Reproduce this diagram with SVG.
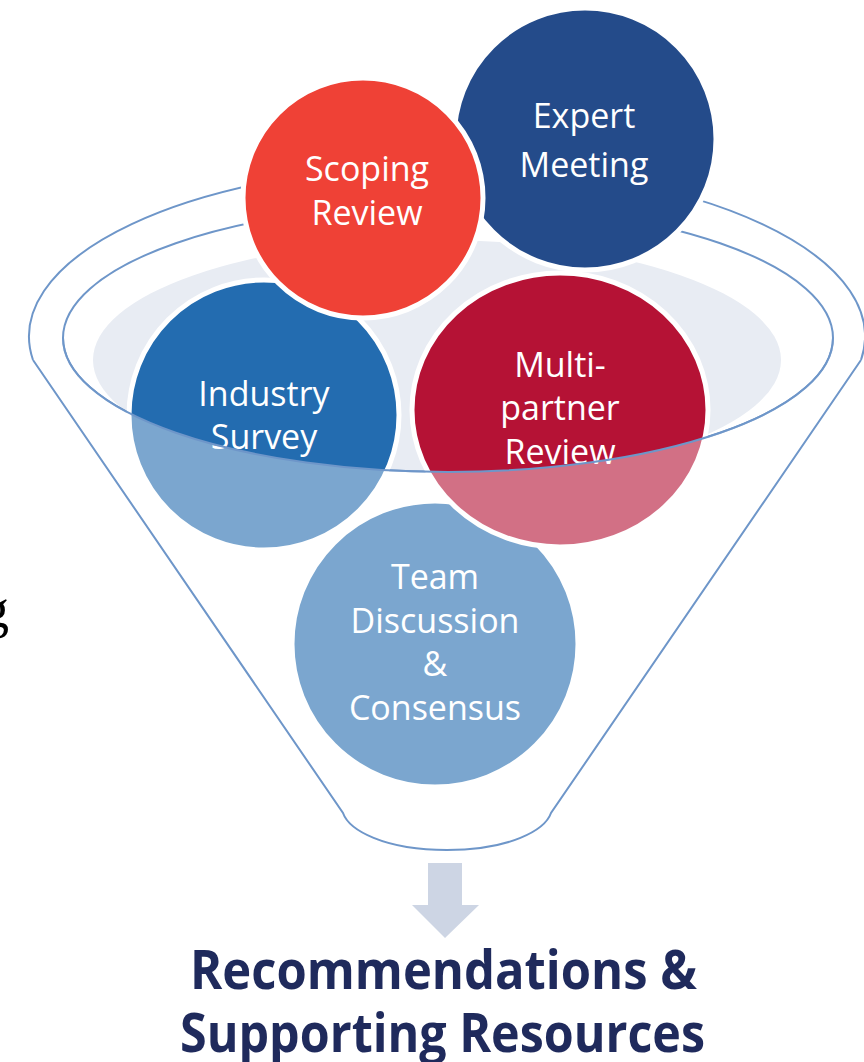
<svg xmlns="http://www.w3.org/2000/svg" width="864" height="1062" viewBox="0 0 864 1062">
<style>
.rim{fill:none;stroke:#6E96C9;stroke-width:2}
.node{stroke:#FFFFFF;stroke-width:5}
.lbl{font-family:"Open Sans","Noto Sans",sans-serif;font-size:34px;fill:#FFFFFF;text-anchor:middle}
.out{font-family:"Open Sans","Noto Sans",sans-serif;font-size:54px;font-weight:bold;fill:#1F2A5C;text-anchor:middle}
</style>
<defs>
<clipPath id="innerClip"><ellipse cx="448" cy="338" rx="385" ry="134"/></clipPath>
</defs>
<rect x="0" y="0" width="864" height="1062" fill="#FFFFFF"/>
<text x="9" y="627" font-family="Liberation Serif, serif" font-size="54" fill="#000000" text-anchor="end">g</text>
<g id="funnel-back">
<ellipse cx="437" cy="360" rx="344" ry="120" fill="#E8ECF3" clip-path="url(#innerClip)"/>
<path class="rim" d="M 33,360 A 418,171 0 1 1 861,360"/>
<ellipse class="rim" cx="448" cy="338" rx="385" ry="134"/>
</g>
<g id="team-discussion">
<circle class="node" cx="435" cy="644" r="143" fill="#236CB0"/>
<text class="lbl" x="435" y="589">Team</text>
<text class="lbl" x="435" y="633">Discussion</text>
<text class="lbl" x="435" y="676">&amp;</text>
<text class="lbl" x="435" y="720">Consensus</text>
</g>
<g id="multi-partner-review">
<ellipse class="node" cx="560" cy="410" rx="148" ry="137" fill="#B51235"/>
<text class="lbl" x="560" y="377">Multi-</text>
<text class="lbl" x="560" y="420">partner</text>
<text class="lbl" x="560" y="464">Review</text>
</g>
<g id="industry-survey">
<circle class="node" cx="264" cy="415" r="135" fill="#236CB0"/>
<text class="lbl" x="264" y="406">Industry</text>
<text class="lbl" x="264" y="449">Survey</text>
</g>
<g id="expert-meeting">
<circle class="node" cx="585" cy="139" r="131" fill="#244B8A"/>
<text class="lbl" x="584" y="128">Expert</text>
<text class="lbl" x="584" y="177">Meeting</text>
</g>
<g id="scoping-review">
<circle class="node" cx="363" cy="198" r="120" fill="#EF4136"/>
<text class="lbl" x="367" y="181">Scoping</text>
<text class="lbl" x="367" y="225">Review</text>
</g>
<g id="funnel-front">
<path d="M 63,338 A 385,134 0 0 0 833,338 L 861,360 L 551,813 C 545,830 510,850 447,850 C 384,850 349,830 343,813 L 33,360 Z" fill="#FFFFFF" fill-opacity="0.4"/>
<path class="rim" d="M 63,338 A 385,134 0 0 0 833,338"/>
<path class="rim" d="M 33,360 L 343,813 C 349,830 384,850 447,850 C 510,850 545,830 551,813 L 861,360"/>
</g>
<g id="connectors">
<path d="M 428,863 L 462,863 L 462,905 L 479,905 L 445,938 L 412,905 L 428,905 Z" fill="#CDD5E4"/>
</g>
<g id="result">
<text class="out" x="443.5" y="989" textLength="507" lengthAdjust="spacingAndGlyphs">Recommendations &amp;</text>
<text class="out" x="442.5" y="1052" textLength="525" lengthAdjust="spacingAndGlyphs">Supporting Resources</text>
</g>
</svg>
